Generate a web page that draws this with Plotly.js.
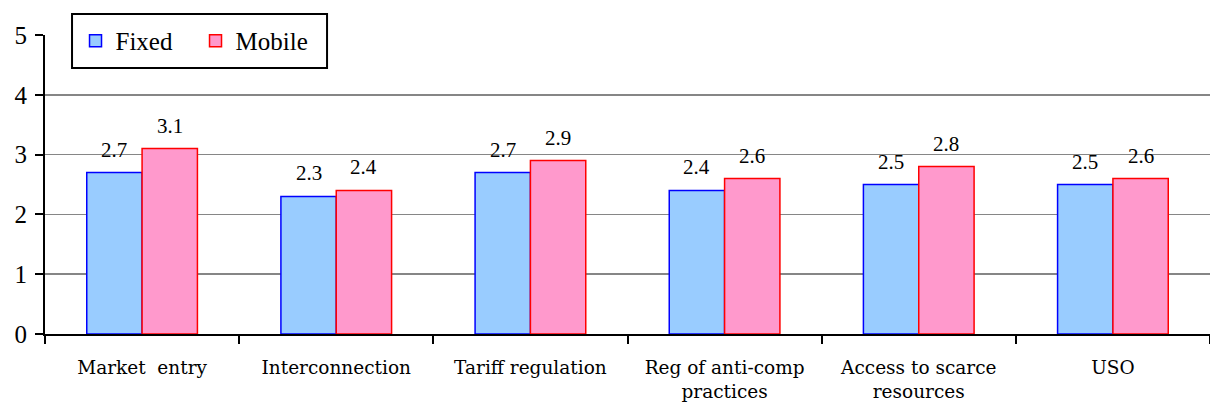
<!DOCTYPE html>
<html>
<head>
<meta charset="utf-8">
<script src="https://cdn.plot.ly/plotly-3.0.1.min.js"></script>
<style>
  html, body { margin: 0; padding: 0; background: #ffffff; }
  #chart { width: 1210px; height: 405px; }
</style>
</head>
<body>
<div id="chart"></div>
<script>
// Regulatory area scores, fixed vs mobile
const categories = [
  "Market\u00a0 entry",
  "Interconnection",
  "Tariff regulation",
  "Reg of anti-comp<br>practices",
  "Access to scarce<br>resources",
  "USO"
];
const fixedScores  = [2.7, 2.3, 2.7, 2.4, 2.5, 2.5];
const mobileScores = [3.1, 2.4, 2.9, 2.6, 2.8, 2.6];
const seriesNames  = ["Fixed", "Mobile"];
const yTicks = [0, 1, 2, 3, 4, 5];

const serif = "Liberation Serif";
const wideSerif = "DejaVu Serif";

const fixedTrace = {
  type: "bar",
  name: seriesNames[0],
  x: categories,
  y: fixedScores,
  marker: { color: "#99CCFF", line: { color: "#0000FF", width: 1.5 } },
  hoverinfo: "skip"
};
const mobileTrace = {
  type: "bar",
  name: seriesNames[1],
  x: categories,
  y: mobileScores,
  marker: { color: "#FF99CC", line: { color: "#FF0000", width: 1.5 } },
  hoverinfo: "skip"
};

// Value labels centred over each bar of the group
const plotWidth = 1210 - 45;
const groupWidth = plotWidth / categories.length * (1 - 0.43);
const halfBar = groupWidth / 4;
const valueLabels = [];
[fixedScores, mobileScores].forEach((vals, s) => {
  vals.forEach((v, i) => {
    valueLabels.push({
      x: categories[i], y: v, xref: "x", yref: "y",
      text: v.toFixed(1), showarrow: false,
      xshift: s === 0 ? -halfBar : halfBar,
      yanchor: "middle", yshift: 23,
      font: { family: serif, size: 21, color: "#000000" }
    });
  });
});

const layout = {
  width: 1210, height: 405,
  margin: { l: 45, r: 0, t: 35, b: 71, pad: 0 },
  paper_bgcolor: "#ffffff", plot_bgcolor: "#ffffff",
  font: { family: serif, color: "#000000" },
  barmode: "group", bargap: 0.43, bargroupgap: 0,
  showlegend: true,
  legend: {
    orientation: "h",
    x: 0.0262, xanchor: "left",
    y: 0.98, yanchor: "middle",
    bgcolor: "rgba(0,0,0,0)", borderwidth: 0,
    font: { family: serif, size: 25, color: "#000000" },
    entrywidth: 75
  },
  // framed white box behind the legend entries
  shapes: [{
    type: "rect", xref: "paper", yref: "paper",
    x0: 0.0232, x1: 0.2421, y0: 0.8896, y1: 1.0702,
    fillcolor: "#ffffff", line: { color: "#000000", width: 2 },
    layer: "above"
  }],
  xaxis: {
    type: "category",
    showline: true, linecolor: "#000000", linewidth: 2,
    ticks: "outside", tickson: "boundaries", ticklen: 8, tickwidth: 2, tickcolor: "#000000",
    tickfont: { family: wideSerif, size: 18.5, color: "#000000" },
    ticklabelstandoff: 16,
    showgrid: false, zeroline: false, fixedrange: true
  },
  yaxis: {
    range: [0, 5],
    tickvals: yTicks, ticktext: yTicks.map(String),
    showline: true, linecolor: "#000000", linewidth: 2,
    ticks: "outside", ticklen: 8, tickwidth: 2, tickcolor: "#000000",
    tickfont: { family: serif, size: 25, color: "#000000" },
    ticklabelstandoff: 3,
    showgrid: true, gridcolor: "#868686", gridwidth: 1.5,
    zeroline: false, fixedrange: true
  },
  annotations: valueLabels
};

Plotly.newPlot("chart", [fixedTrace, mobileTrace], layout, { staticPlot: true, displayModeBar: false });
</script>
</body>
</html>
